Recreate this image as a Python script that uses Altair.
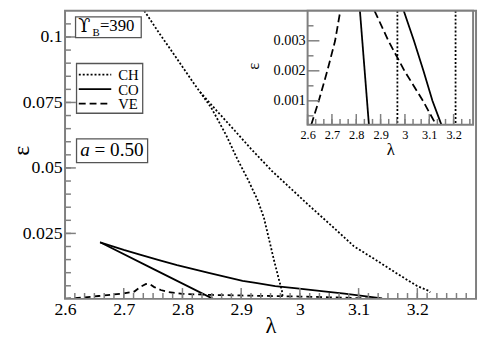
import altair as alt
import pandas as pd

SERIF = "Liberation Serif"
GRAY = "#7f7f7f"

# ---------------- main panel data (lambda, epsilon) ----------------
ch_a_lam = [2.735, 2.76, 2.79, 2.819, 2.849, 2.8745, 2.894, 2.911, 2.9275, 2.9386, 2.947, 2.9553, 2.9637, 2.9694, 2.971]
ch_a_eps = [0.110, 0.1016, 0.0919, 0.0824, 0.0730, 0.0625, 0.0531, 0.0458, 0.0380, 0.0311, 0.0232, 0.0153, 0.0079, 0.0031, 0.0]
ch_b_lam = [2.83, 2.8577, 2.8884, 2.9163, 2.9526, 2.9833, 3.0139, 3.0531, 3.092, 3.1284, 3.1645, 3.1997, 3.2193, 3.222]
ch_b_eps = [0.0790, 0.0720, 0.0644, 0.0574, 0.0488, 0.0424, 0.0360, 0.0281, 0.0201, 0.0150, 0.0098, 0.0049, 0.0031, 0.0025]

co_a_lam = [2.6597, 2.756, 2.852]
co_a_eps = [0.0216, 0.0108, 0.0]
co_b_lam = [2.6597, 2.70, 2.729, 2.76, 2.7908, 2.8465, 2.9024, 2.9247, 2.958, 2.995, 3.037, 3.076, 3.113, 3.14]
co_b_eps = [0.0216, 0.0187, 0.0168, 0.0148, 0.0129, 0.0098, 0.0069, 0.0061, 0.0049, 0.0040, 0.0030, 0.0020, 0.0010, 0.0002]

ve_lam = [2.60, 2.63, 2.657, 2.679, 2.70, 2.718, 2.728, 2.738, 2.745, 2.752, 2.763, 2.774, 2.80, 2.85, 2.90, 2.95, 3.00, 3.05, 3.10, 3.125]
ve_eps = [0.0001, 0.0005, 0.0011, 0.0016, 0.0021, 0.0028, 0.0045, 0.0057, 0.0055, 0.0045, 0.0034, 0.0027, 0.0019, 0.0015, 0.0013, 0.0011, 0.0009, 0.0006, 0.0003, 0.0001]

# ---------------- inset data ----------------
in_ve_a_lam = [2.615, 2.646, 2.681, 2.713, 2.7345]
in_ve_a_eps = [0.0002, 0.001, 0.002, 0.003, 0.004]
in_ve_b_lam = [2.875, 2.932, 2.998, 3.074, 3.128]
in_ve_b_eps = [0.004, 0.003, 0.002, 0.001, 0.0002]
in_co_a_lam = [2.815, 2.852]
in_co_a_eps = [0.004, 0.0002]
in_co_b_lam = [2.995, 3.037, 3.076, 3.113, 3.150]
in_co_b_eps = [0.004, 0.003, 0.002, 0.001, 0.0002]
in_ch_a_lam = [2.969, 2.969]
in_ch_a_eps = [0.004, 0.0002]
in_ch_b_lam = [3.208, 3.208]
in_ch_b_eps = [0.004, 0.0002]

# ---------------- ticks ----------------
x_major = [2.6, 2.7, 2.8, 2.9, 3.0, 3.1, 3.2]
x_minor = [round(2.6 + i / 60, 4) for i in range(43)]
y_major = [0.025, 0.05, 0.075, 0.1]
y_minor = [round(0.005 * i, 4) for i in range(1, 22)]
in_x_major = [2.6, 2.7, 2.8, 2.9, 3.0, 3.1, 3.2]
in_x_minor = [round(2.6 + i / 30, 4) for i in range(21)]
in_y_major = [0.001, 0.002, 0.003]
in_y_minor = [0.0005, 0.0015, 0.0025, 0.0035]

W, H = 418, 293
IN_X0, IN_X1, IN_H = 246.7, 415.0, 116.0


def df(lam, eps, name):
    return pd.DataFrame({"lam": lam, "eps": eps, "i": list(range(len(lam))), "s": name})


sx = alt.Scale(domain=[2.6, 3.3], nice=False, zero=False)
sy = alt.Scale(domain=[0.0, 0.11], nice=False, zero=False)
six = alt.Scale(domain=[2.6, 3.28], range=[IN_X0, IN_X1], nice=False, zero=False)
siy = alt.Scale(domain=[0.0002, 0.004], range=[IN_H, 0], nice=False, zero=False)

main_xaxis = alt.Axis(values=x_major, format=".1~f", ticks=False, tickSize=0, domain=False, grid=False,
                      labelFont=SERIF, labelFontSize=18, labelColor="black", labelPadding=2,
                      labelFlush=False, labelOverlap=False,
                      title="λ", titleFont=SERIF, titleFontSize=23, titleFontWeight="normal",
                      titleColor="black", titleY=27, titleBaseline="middle")
main_yaxis = alt.Axis(values=y_major, format=".3~f", ticks=False, tickSize=0, domain=False, grid=False,
                      labelFont=SERIF, labelFontSize=18, labelColor="black", labelPadding=3,
                      labelFlush=False, labelOverlap=False,
                      title="ε", titleFont=SERIF, titleFontSize=24, titleFontWeight="normal",
                      titleColor="black", titleX=-44, titleY=142, titleBaseline="middle")
in_xaxis = alt.Axis(values=in_x_major, format=".1~f", ticks=False, tickSize=0, domain=False, grid=False,
                    orient="bottom", offset=-(H - IN_H),
                    labelFont=SERIF, labelFontSize=12.5, labelColor="black", labelPadding=4,
                    labelFlush=False, labelOverlap=False,
                    title="λ", titleFont=SERIF, titleFontSize=17, titleFontWeight="normal",
                    titleColor="black", titleY=25, titleBaseline="middle")
in_yaxis = alt.Axis(values=in_y_major, format=".3~f", ticks=False, tickSize=0, domain=False, grid=False,
                    orient="left", offset=-IN_X0,
                    labelFont=SERIF, labelFontSize=14.5, labelColor="black", labelPadding=2.5,
                    labelFlush=False, labelOverlap=False,
                    title="ε", titleFont=SERIF, titleFontSize=17, titleFontWeight="normal",
                    titleColor="black", titleX=-55, titleY=56, titleBaseline="middle")

DOT = [2.0, 2.0]
DASH = [6, 4]


def line(data, dash, scx, scy, ax, ay, sw=1.8):
    kw = dict(color="black", strokeWidth=sw, clip=True)
    if dash:
        kw["strokeDash"] = dash
    return alt.Chart(data).mark_line(**kw).encode(
        x=alt.X("lam:Q", scale=scx, axis=ax),
        y=alt.Y("eps:Q", scale=scy, axis=ay),
        order="i:Q",
    )


def xticks(vals, scx, ax, base, length, sw=1.5):
    return alt.Chart(pd.DataFrame({"t": vals})).mark_rule(color=GRAY, strokeWidth=sw).encode(
        x=alt.X("t:Q", scale=scx, axis=ax), y=alt.value(base), y2=alt.value(base - length))


def yticks(vals, scy, ay, base, length, sw=1.5):
    return alt.Chart(pd.DataFrame({"t": vals})).mark_rule(color=GRAY, strokeWidth=sw).encode(
        y=alt.Y("t:Q", scale=scy, axis=ay), x=alt.value(base), x2=alt.value(base + length))


one = pd.DataFrame({"k": [0]})


def box(x0, x1, y0, y1, fill="white", stroke="#555555", sw=1.3):
    return alt.Chart(one).mark_rect(fill=fill, stroke=stroke, strokeWidth=sw).encode(
        x=alt.value(x0), x2=alt.value(x1), y=alt.value(y0), y2=alt.value(y1))


def txt(s, x, y, size, style="normal", align="left", font=SERIF):
    return alt.Chart(one).mark_text(text=s, font=font, fontSize=size, fontStyle=style,
                                    align=align, baseline="alphabetic", color="black").encode(
        x=alt.value(x), y=alt.value(y))


def seg(x0, x1, y, dash):
    kw = dict(color="black", strokeWidth=1.8)
    if dash:
        kw["strokeDash"] = dash
    return alt.Chart(one).mark_rule(**kw).encode(x=alt.value(x0), x2=alt.value(x1), y=alt.value(y))


main_layers = [
    line(df(ch_a_lam, ch_a_eps, "a"), DOT, sx, sy, main_xaxis, main_yaxis),
    line(df(ch_b_lam, ch_b_eps, "b"), DOT, sx, sy, main_xaxis, main_yaxis),
    line(df(co_a_lam, co_a_eps, "a"), None, sx, sy, main_xaxis, main_yaxis),
    line(df(co_b_lam, co_b_eps, "b"), None, sx, sy, main_xaxis, main_yaxis),
    line(df(ve_lam, ve_eps, "a"), DASH, sx, sy, main_xaxis, main_yaxis),
    xticks(x_minor, sx, main_xaxis, H, 6),
    xticks(x_major, sx, main_xaxis, H, 11),
    yticks(y_minor, sy, main_yaxis, 0, 6),
    yticks(y_major, sy, main_yaxis, 0, 11),
    alt.Chart(one).mark_rect(fillOpacity=0, stroke=GRAY, strokeWidth=2).encode(
        x=alt.value(0), x2=alt.value(W), y=alt.value(0), y2=alt.value(H)),
    # Upsilon_B box
    box(10.7, 77.5, 6.2, 27.4),
    txt("ϒ", 13.5, 21.8, 18, font="DejaVu Serif"),
    txt("B", 28, 25.8, 11),
    txt("=390", 35.5, 21.0, 17),
    # legend box
    box(11.7, 79, 53.6, 104.2),
    seg(14, 47, 65, DOT),
    seg(14, 47, 79.7, None),
    seg(14, 47, 94.4, [7, 4]),
    txt("CH", 54, 70.5, 15),
    txt("CO", 54, 85.2, 15),
    txt("VE", 54, 99.9, 15),
    # a = 0.50 box
    box(11.7, 84, 130.3, 154.5),
    txt("a", 15.5, 148, 19.5, style="italic"),
    txt("= 0.50", 30, 148, 19.5),
]
main = alt.layer(*main_layers)

inset_layers = [
    alt.Chart(one).mark_rect(fill="white").encode(
        x=alt.value(IN_X0), x2=alt.value(IN_X1), y=alt.value(0), y2=alt.value(IN_H)),
    line(df(in_ch_a_lam, in_ch_a_eps, "a"), DOT, six, siy, in_xaxis, in_yaxis),
    line(df(in_ch_b_lam, in_ch_b_eps, "b"), DOT, six, siy, in_xaxis, in_yaxis),
    line(df(in_co_a_lam, in_co_a_eps, "a"), None, six, siy, in_xaxis, in_yaxis),
    line(df(in_co_b_lam, in_co_b_eps, "b"), None, six, siy, in_xaxis, in_yaxis),
    line(df(in_ve_a_lam, in_ve_a_eps, "a"), [8, 4], six, siy, in_xaxis, in_yaxis),
    line(df(in_ve_b_lam, in_ve_b_eps, "b"), [8, 4], six, siy, in_xaxis, in_yaxis),
    xticks(in_x_minor, six, in_xaxis, IN_H, 6),
    xticks(in_x_major, six, in_xaxis, IN_H, 11),
    yticks(in_y_minor, siy, in_yaxis, IN_X0, 6),
    yticks(in_y_major, siy, in_yaxis, IN_X0, 12),
    alt.Chart(one).mark_rect(fillOpacity=0, stroke=GRAY, strokeWidth=2).encode(
        x=alt.value(IN_X0), x2=alt.value(IN_X1), y=alt.value(0), y2=alt.value(IN_H)),
]
inset = alt.layer(*inset_layers)

chart = alt.layer(main, inset).resolve_scale(x="independent", y="independent").properties(
    width=W, height=H,
    autosize=alt.AutoSizeParams(type="none"),
    padding={"left": 58, "top": 0, "right": 2, "bottom": 40},
).configure_view(strokeWidth=0)

chart.save("out.html", embed_options={"renderer": "svg", "actions": False})
